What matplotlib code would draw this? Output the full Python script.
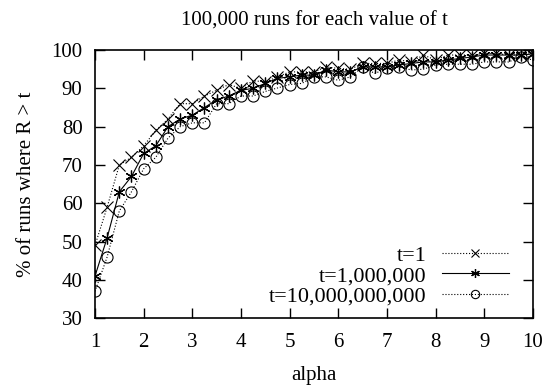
import matplotlib
matplotlib.use('Agg')
import matplotlib.pyplot as plt
import numpy as np

plt.rcParams['font.family'] = ['Liberation Serif', 'DejaVu Serif']
plt.rcParams['font.size'] = 15

# alpha values, step 0.25 from 1 to 10
alpha = np.arange(1, 10.01, 0.25)

# % of runs where R > t
t1 = [49, 59, 70, 72, 75, 79, 82, 86, 86, 88, 89.5, 91, 90, 92, 91.7, 93,
      94.3, 94.3, 94.3, 95.6, 95.2, 95, 96.5, 96.5, 96.5, 97.4, 96.9, 98.7,
      97.4, 98.7, 98.7, 98.7, 99.1, 99.1, 98.7, 98.7, 99.1]
t1e6 = [41, 51, 63, 67, 73, 75, 80, 82, 83, 85, 87, 88, 89.5, 90, 91.3, 92.6,
        93, 93.5, 93.4, 94.8, 94.3, 94.3, 95.6, 95.6, 95.6, 96.1, 96.5, 96.9,
        96.9, 97.4, 97.8, 98.2, 98.7, 98.7, 98.7, 98.7, 99]
t1e10 = [37, 46, 58, 63, 69, 72, 77, 80, 81, 81, 86, 86, 88, 88, 89.2, 90.1,
         91, 91.3, 93, 93, 92.1, 93, 95.6, 93.9, 95.2, 95.6, 94.8, 95, 96.1,
         96.3, 96.3, 96.3, 96.9, 96.9, 96.9, 98.2, 97.4]

fig = plt.figure(figsize=(5.46, 3.88), dpi=100)
ax = fig.add_axes([0.174, 0.180, 0.802, 0.691])

ax.plot(alpha, t1, color='black', lw=0.8, ls=':', marker='x', ms=8,
        mew=0.8, label='t=1')
ax.plot(alpha, t1e6, color='black', lw=0.8, ls='-', marker=(6, 2, 0), ms=8.5,
        mew=0.9, label='t=1,000,000')
ax.plot(alpha, t1e10, color='black', lw=0.8, ls=':', marker='o', ms=8,
        mew=0.8, mfc='none', label='t=10,000,000,000')

ax.set_xlim(1, 10)
ax.set_ylim(30, 100)
ax.set_xticks(range(1, 11))
ax.set_yticks(range(30, 101, 10))
ax.tick_params(direction='in', length=7, width=1, top=True, right=True)
ax.tick_params(axis='x', pad=11)
ax.tick_params(axis='y', pad=9)
for s in ax.spines.values():
    s.set_linewidth(1.2)

ax.set_xlabel('alpha', labelpad=10)
ax.set_ylabel('% of runs where R > t', labelpad=11)
ax.set_title('100,000 runs for each value of t', fontsize=15, pad=18)

ax.legend(loc='lower right', bbox_to_anchor=(0.98, -0.015), frameon=False,
          markerfirst=False, handlelength=3.0, labelspacing=0.0,
          handletextpad=0.7, borderpad=0.2, markerscale=0.75, fontsize=16)

fig.savefig('out.png', dpi=100)
